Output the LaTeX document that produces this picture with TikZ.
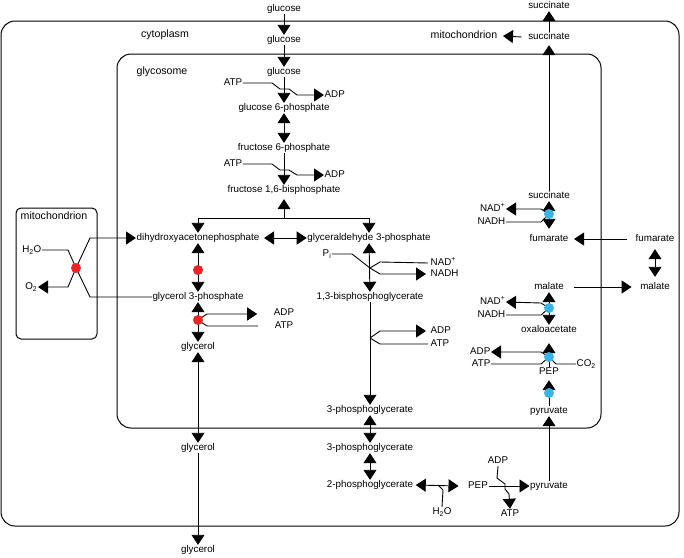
\documentclass[tikz,border=0pt]{standalone}
\usepackage{fontspec}
\setmainfont{Liberation Sans}
\usetikzlibrary{arrows.meta,calc}
\definecolor{rdot}{HTML}{EE2226}
\definecolor{bdot}{HTML}{35B6E6}
\begin{document}
\begin{tikzpicture}[x=1pt,y=-1pt,
  lbl/.style={font=\fontsize{9.8}{11}\selectfont, inner sep=0.5pt, text height=7pt, text depth=2pt},
  comp/.style={font=\fontsize{10.6}{12}\selectfont, inner sep=0.5pt, text height=7.5pt, text depth=2pt},
  ln/.style={line width=0.9pt},
  ar/.style={ln, -{Triangle[width=13pt,length=10pt]}},
  dar/.style={ln, {Triangle[width=13pt,length=10pt]}-{Triangle[width=13pt,length=10pt]}},
  box/.style={line width=1pt, rounded corners=14pt},
  rdotn/.style={circle, fill=rdot, inner sep=0pt, minimum size=10pt},
  bdotn/.style={circle, fill=bdot, inner sep=0pt, minimum size=10pt},
]
\useasboundingbox (0,0) rectangle (684,557);
% compartments
\draw[box] (1,21) rectangle (679,526);
\draw[box] (117,54) rectangle (601,428);
\draw[line width=1pt, rounded corners=5pt] (16,208) rectangle (97,339);

% labels
\node[comp] (cyto) at (165,35) {cytoplasm};
\node[comp] (glycosome) at (162,72) {glycosome};
\node[comp] (mitoL) at (54,217) {mitochondrion};
\node[comp] (mitoT) at (464,36) {mitochondrion};

% glycolysis column
\node[lbl] (glu0) at (284,9) {glucose};
\node[lbl] (glu1) at (284,40) {glucose};
\node[lbl] (glu2) at (284,72) {glucose};
\node[lbl] (g6p) at (284,108) {glucose 6-phosphate};
\node[lbl] (f6p) at (284,148) {fructose 6-phosphate};
\node[lbl] (fbp) at (284,190) {fructose 1,6-bisphosphate};
\node[lbl] (atp1) at (233,83) {ATP};
\node[lbl, anchor=west] (adp1) at (324,95) {ADP};
\node[lbl] (atp2) at (233,164) {ATP};
\node[lbl, anchor=west] (adp2) at (324,175) {ADP};
\node[lbl] (dhap) at (198,238) {dihydroxyacetonephosphate};
\node[lbl] (gap) at (369,238) {glyceraldehyde 3-phosphate};
\node[lbl] (g3p) at (198,297) {glycerol 3-phosphate};
\node[lbl] (bpg) at (370,297) {1,3-bisphosphoglycerate};
\node[lbl] (gly1) at (198,347) {glycerol};
\node[lbl] (adp3) at (284,313) {ADP};
\node[lbl] (atp3) at (284,326) {ATP};
\node[lbl] (pi) at (327,254) {P\textsubscript{i}};
\node[lbl, anchor=west] (nad1) at (430,263) {NAD\textsuperscript{+}};
\node[lbl, anchor=west] (nadh1) at (430,274) {NADH};
\node[lbl, anchor=west] (adp4) at (430,331) {ADP};
\node[lbl, anchor=west] (atp4) at (430,344) {ATP};
\node[lbl] (pg3a) at (370,410) {3-phosphoglycerate};
\node[lbl] (pg3b) at (370,448) {3-phosphoglycerate};
\node[lbl] (pg2) at (370,485) {2-phosphoglycerate};
\node[lbl] (gly2) at (198,448) {glycerol};
\node[lbl] (gly3) at (198,550) {glycerol};
\node[lbl, anchor=east] (h2oL) at (42,250) {H\textsubscript{2}O};
\node[lbl, anchor=east] (o2L) at (38,287) {O\textsubscript{2}};
\node[lbl] (h2oB) at (442,512) {H\textsubscript{2}O};
\node[lbl] (pep2) at (478,486) {PEP};
\node[lbl] (pyr2) at (549,486) {pyruvate};
\node[lbl] (adp6) at (498,461) {ADP};
\node[lbl] (atp6) at (510,514) {ATP};

% right column
\node[lbl] (suc0) at (549,6) {succinate};
\node[lbl] (suc1) at (549,37) {succinate};
\node[lbl] (suc2) at (549,196) {succinate};
\node[lbl, anchor=east] (nad2) at (506,209) {NAD\textsuperscript{+}};
\node[lbl, anchor=east] (nadh2) at (506,222) {NADH};
\node[lbl] (fum1) at (549,239) {fumarate};
\node[lbl] (fum2) at (655,239) {fumarate};
\node[lbl] (mal1) at (549,287) {malate};
\node[lbl] (mal2) at (655,287) {malate};
\node[lbl, anchor=east] (nad3) at (506,302) {NAD\textsuperscript{+}};
\node[lbl, anchor=east] (nadh3) at (506,315) {NADH};
\node[lbl] (oaa) at (549,330) {oxaloacetate};
\node[lbl, anchor=east] (adp5) at (491,352) {ADP};
\node[lbl, anchor=east] (atp5) at (491,364) {ATP};
\node[lbl] (pep1) at (549,372) {PEP};
\node[lbl, anchor=west] (co2) at (576,364) {CO\textsubscript{2}};
\node[lbl] (pyr1) at (549,411) {pyruvate};

% junction / dot positions
\coordinate (rd0) at (76,268);
\coordinate (rd1) at (198,270);
\coordinate (rd2) at (198,320);
\coordinate (bd1) at (549,214);
\coordinate (bd2) at (549,308);
\coordinate (bd3) at (549,357);
\coordinate (bd4) at (549,393);
\coordinate (fj) at (284,218);
\coordinate (j1) at (370,268);
\coordinate (j2) at (370,338);

% glycolysis connectors
\draw[ar] (glu0) -- (glu1);
\draw[ar] (glu1) -- (glu2);
\draw[ar] (glu2) -- (g6p);
\draw[dar] (g6p) -- (f6p);
\draw[ar] (f6p) -- (fbp);
\draw[ar] (atp1.east) -- (272,83) -- (280,89) -- (289,89) -- (297,95) -- (adp1.west);
\draw[ar] (atp2.east) -- (272,164) -- (280,170) -- (289,170) -- (297,175) -- (adp2.west);
\draw[ar, shorten >=4pt] (fj) -- (fbp);
\draw[ar] (fj) -| (dhap.north);
\draw[ar] (fj) -| (gap.north);
\draw[dar] ($(dhap.east)+(4,0)$) -- (gap.west);
\draw[dar] (dhap) -- (g3p);
\draw[dar] (g3p) -- (gly1);
\draw[ar] (rd2) -- (207,314) -- ($(adp3.west)+(-16,1)$);
\draw[ln] ($(atp3.west)+(-16,0)$) -- (207,326) -- (rd2);
\draw[dar] (gly1) -- (gly2);
\draw[ar] (gly2) -- (gly3);
\draw[dar] (gap) -- (bpg);
\draw[ln] (pi.east) -- (352,254) -- (j1) -- (380,262) -- ($(nad1.west)+(-2,0)$);
\draw[ar] (j1) -- (380,274) -- ($(nadh1.west)+(-4,0)$);
\draw[ar] (bpg) -- (pg3a);
\draw[ar] (j2) -- (380,331) -- ($(adp4.west)+(-4,0)$);
\draw[ln] (j2) -- (380,344) -- ($(atp4.west)+(-2,0)$);
\draw[dar] (pg3a) -- (pg3b);
\draw[dar] (pg3b) -- (pg2);
\draw[dar] ($(pg2.east)+(2,0)$) -- ($(pep2.west)+(-9,0)$);
\draw[ln] (438,485) -- (443,490) -- (h2oB.north);
\draw[ar] (pep2.east) -- (pyr2.west);
\draw[ar] (adp6.south) -- (497,478) -- (505,484) -- (505,489) -- (509,494) -- (atp6.north);
\draw[ar] (pyr2) -- (pyr1);

% left mitochondrion
\draw[ln] (h2oL.east) -- (68,250) -- (rd0) -- (90,297) -- (g3p.west);
\draw[ar] (rd0) -- (68,287) -- (o2L.east);
\draw[ar] (rd0) -- (90,238) -- (dhap.west);

% right column connectors
\draw[ar] (suc1) -- (suc0);
\draw[ar] ($(suc1.west)+(-6,0)$) -- ($(mitoT.east)+(5,0)$);
\draw[ar, shorten >=3pt] (suc2) -- (suc1);
\draw[dar, shorten >=5pt] (suc2) -- (fum1);
\draw[ar] (bd1) -- (541,209) -- (nad2.east);
\draw[ln] (nadh2.east) -- (541,222) -- (bd1);
\draw[ar] ($(fum2.west)+(-8,0)$) -- ($(fum1.east)+(5,0)$);
\draw[dar, shorten >=5pt, shorten <=5pt] (fum2) -- (mal2);
\draw[ar] ($(mal1.east)+(10,0)$) -- ($(mal2.west)+(-8,0)$);
\draw[dar] (mal1) -- (oaa);
\draw[ar] (bd2) -- (541,303) -- (nad3.east);
\draw[ln] (nadh3.east) -- (541,315) -- (bd2);
\draw[ar] (pep1) -- ($(oaa.south)+(0,8)$);
\draw[ar] (bd3) -- (541,352) -- (adp5.east);
\draw[ln] (atp5.east) -- (541,364) -- (bd3);
\draw[ln] (bd3) -- (556,364) -- (co2.west);
\draw[ar, shorten >=3pt] (pyr1) -- (pep1);

% enzyme dots
\node[rdotn] at (rd0) {};
\node[rdotn] at (rd1) {};
\node[rdotn] at (rd2) {};
\node[bdotn] at (bd1) {};
\node[bdotn] at (bd2) {};
\node[bdotn] at (bd3) {};
\node[bdotn] at (bd4) {};
\end{tikzpicture}
\end{document}
